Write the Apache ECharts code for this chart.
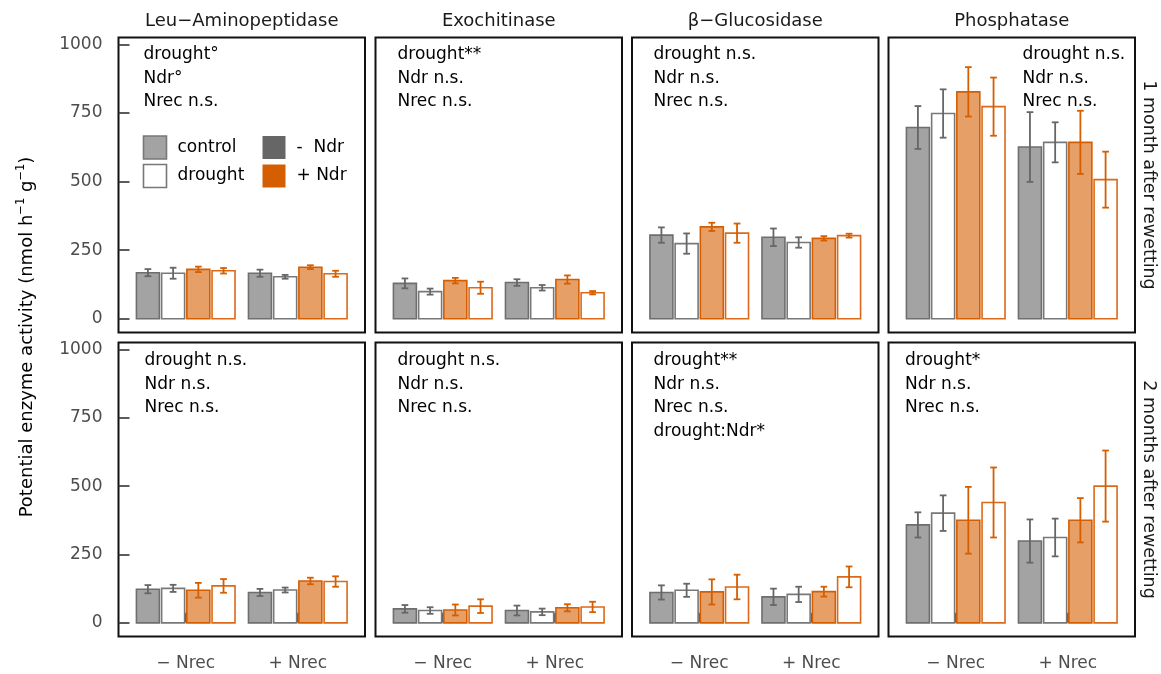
<!DOCTYPE html>
<html>
<head>
<meta charset="utf-8">
<script src="https://cdn.jsdelivr.net/npm/echarts@6/dist/echarts.min.js"></script>
<style>
  html, body { margin: 0; padding: 0; background: #fff; }
  #chart { width: 1161px; height: 674px; }
</style>
</head>
<body>
<div id="chart"></div>
<script>
// Facet labels and x categories
const enzymes = ['Leu\u2212Aminopeptidase', 'Exochitinase', '\u03b2\u2212Glucosidase', 'Phosphatase'];
const timepoints = ['1 month after rewetting', '2 months after rewetting'];
const nrecLevels = ['\u2212 Nrec', '+ Nrec'];
const yTicks = [0, 250, 500, 750, 1000];

// Bar order inside each Nrec group:
// control −Ndr, drought −Ndr, control +Ndr, drought +Ndr  (−Nrec first, then +Nrec)
const leuMean1  = [168, 166, 180, 175, 166, 153, 188, 164];
const leuErr1   = [13, 20, 10, 10, 13, 7, 7, 11];
const chitMean1 = [129, 99, 139, 113, 132, 113, 143, 95];
const chitErr1  = [18, 11, 10, 22, 12, 10, 15, 6];
const glucMean1 = [305, 274, 335, 312, 297, 278, 293, 303];
const glucErr1  = [28, 37, 15, 35, 32, 19, 8, 7];
const phosMean1 = [697, 748, 827, 773, 626, 643, 643, 507];
const phosErr1  = [78, 88, 90, 106, 127, 73, 115, 102];

const leuMean2  = [123, 126, 119, 135, 111, 120, 153, 151];
const leuErr2   = [15, 13, 27, 25, 13, 9, 12, 19];
const chitMean2 = [51, 45, 47, 61, 45, 40, 55, 58];
const chitErr2  = [14, 12, 20, 25, 18, 12, 13, 19];
const glucMean2 = [111, 119, 113, 131, 95, 104, 114, 168];
const glucErr2  = [26, 24, 46, 45, 30, 28, 18, 38];
const phosMean2 = [358, 401, 375, 440, 299, 312, 375, 500];
const phosErr2  = [46, 65, 122, 128, 79, 69, 81, 130];

// ANOVA summaries printed in each panel
const stats1 = [
  ['drought\u00b0', 'Ndr\u00b0', 'Nrec n.s.'],
  ['drought**', 'Ndr n.s.', 'Nrec n.s.'],
  ['drought n.s.', 'Ndr n.s.', 'Nrec n.s.'],
  ['drought n.s.', 'Ndr n.s.', 'Nrec n.s.']
];
const stats2 = [
  ['drought n.s.', 'Ndr n.s.', 'Nrec n.s.'],
  ['drought n.s.', 'Ndr n.s.', 'Nrec n.s.'],
  ['drought**', 'Ndr n.s.', 'Nrec n.s.', 'drought:Ndr*'],
  ['drought*', 'Ndr n.s.', 'Nrec n.s.']
];

const means = [[leuMean1, chitMean1, glucMean1, phosMean1], [leuMean2, chitMean2, glucMean2, phosMean2]];
const errs  = [[leuErr1, chitErr1, glucErr1, phosErr1], [leuErr2, chitErr2, glucErr2, phosErr2]];

// ---- layout & style ----
const FONT = 'DejaVu Sans';
const colLeft = [118.5, 375.5, 632, 888.5];
const colWidth = 246.5;
const rowTop = [37.5, 342.5];
const rowHeight = [295, 294];
const statX = [[143.5, 397.5, 653.5, 1022.5], [144.5, 397.5, 653.5, 905]];
const statY = [55, 361];
const statStep = 23.5;

const dodge = [-0.3375, -0.1125, 0.1125, 0.3375];
const barW = 0.205;
const capHalf = 0.03;
const barStyle = [
  { fill: '#A3A3A3', stroke: '#6E6E6E', err: '#666666' },
  { fill: '#FFFFFF', stroke: '#787878', err: '#666666' },
  { fill: '#E69F66', stroke: '#D55E00', err: '#D55E00' },
  { fill: '#FFFFFF', stroke: '#DA6A1A', err: '#D55E00' }
];

function renderBar(params, api) {
  const grp = api.value(0), slot = api.value(1), mean = api.value(2), se = api.value(3);
  const cx = grp + dodge[slot];
  const a = api.coord([cx - barW / 2, mean]);
  const b = api.coord([cx + barW / 2, 0]);
  const hi = api.coord([cx, mean + se]);
  const lo = api.coord([cx, mean - se]);
  const cl = api.coord([cx - capHalf, mean])[0];
  const cr = api.coord([cx + capHalf, mean])[0];
  const st = barStyle[slot];
  const eStyle = { stroke: st.err, lineWidth: 1.8 };
  return {
    type: 'group',
    children: [
      { type: 'rect', shape: { x: a[0], y: a[1], width: b[0] - a[0], height: b[1] - a[1] },
        style: { fill: st.fill, stroke: st.stroke, lineWidth: 1.6 } },
      { type: 'line', shape: { x1: hi[0], y1: hi[1], x2: lo[0], y2: lo[1] }, style: eStyle },
      { type: 'line', shape: { x1: cl, y1: hi[1], x2: cr, y2: hi[1] }, style: eStyle },
      { type: 'line', shape: { x1: cl, y1: lo[1], x2: cr, y2: lo[1] }, style: eStyle }
    ]
  };
}

const grids = [], xAxes = [], yAxes = [], series = [], graphics = [];

for (let r = 0; r < 2; r++) {
  for (let c = 0; c < 4; c++) {
    const idx = r * 4 + c;
    grids.push({
      left: colLeft[c], top: rowTop[r], width: colWidth, height: rowHeight[r],
      show: true, borderColor: '#111', borderWidth: 2, containLabel: false
    });
    const bottomRow = r === 1;
    xAxes.push({
      type: 'value', gridIndex: idx, min: 0.4, max: 2.6,
      splitLine: { show: false },
      axisLine: { show: false },
      axisTick: { show: bottomRow, inside: true, length: 10, customValues: [1, 2],
                  lineStyle: { color: '#333', width: 1.6 } },
      axisLabel: { show: bottomRow, customValues: [1, 2], margin: 19,
                   formatter: v => nrecLevels[Math.round(v) - 1],
                   fontFamily: FONT, fontSize: 17, color: '#4d4d4d' }
    });
    const leftCol = c === 0;
    yAxes.push({
      type: 'value', gridIndex: idx, min: -50, max: 1025,
      splitLine: { show: false },
      axisLine: { show: false },
      axisTick: { show: leftCol, inside: true, length: 11, customValues: yTicks,
                  lineStyle: { color: '#333', width: 1.6 } },
      axisLabel: { show: leftCol, customValues: yTicks, margin: 16,
                   formatter: v => String(v),
                   fontFamily: FONT, fontSize: 17, color: '#4d4d4d' }
    });
    const data = [];
    for (let i = 0; i < 8; i++) {
      data.push([i < 4 ? 1 : 2, i % 4, means[r][c][i], errs[r][c][i]]);
    }
    series.push({
      type: 'custom', xAxisIndex: idx, yAxisIndex: idx,
      renderItem: renderBar, data: data, silent: true, clip: false
    });
    // statistics text
    const lines = (r === 0 ? stats1 : stats2)[c];
    lines.forEach((t, k) => {
      graphics.push({
        type: 'text', x: statX[r][c], y: statY[r] + k * statStep, silent: true,
        style: { text: t, fontFamily: FONT, fontSize: 17, fill: '#000',
                 align: 'left', verticalAlign: 'middle' }
      });
    });
  }
}

// column strip titles
enzymes.forEach((e, c) => {
  graphics.push({
    type: 'text', x: colLeft[c] + colWidth / 2, y: 21, silent: true,
    style: { text: e, fontFamily: FONT, fontSize: 18, fill: '#1a1a1a', align: 'center', verticalAlign: 'middle' }
  });
});
// row strip titles (read top to bottom)
timepoints.forEach((t, r) => {
  graphics.push({
    type: 'text', x: 1149, y: rowTop[r] + rowHeight[r] / 2, rotation: -Math.PI / 2, silent: true,
    style: { text: t, fontFamily: FONT, fontSize: 17.5, fill: '#1a1a1a', align: 'center', verticalAlign: 'middle' }
  });
});
// y axis title with superscript exponents
graphics.push({
  type: 'text', x: 27, y: 337, rotation: Math.PI / 2, silent: true,
  style: {
    text: 'Potential enzyme activity (nmol h{s|\u22121} g{s|\u22121})',
    fontFamily: FONT, fontSize: 18, lineHeight: 23, fill: '#000', align: 'center', verticalAlign: 'middle',
    rich: { s: { fontFamily: FONT, fontSize: 11.5, lineHeight: 9, verticalAlign: 'top', fill: '#000' } }
  }
});

// legend inside the first panel
const legendItems = [
  { x: 143.5, y: 136, fill: '#A3A3A3', stroke: '#787878', label: 'control' },
  { x: 143.5, y: 164.5, fill: '#FFFFFF', stroke: '#787878', label: 'drought' },
  { x: 262.5, y: 136, fill: '#666666', stroke: null, label: '-  Ndr' },
  { x: 262.5, y: 164.5, fill: '#D55E00', stroke: null, label: '+ Ndr' }
];
legendItems.forEach(it => {
  graphics.push({
    type: 'rect', silent: true,
    shape: { x: it.x, y: it.y, width: 23, height: 23 },
    style: it.stroke ? { fill: it.fill, stroke: it.stroke, lineWidth: 1.6 } : { fill: it.fill }
  });
  graphics.push({
    type: 'text', x: it.x + 34, y: it.y + 11.5, silent: true,
    style: { text: it.label, fontFamily: FONT, fontSize: 17, fill: '#000', align: 'left', verticalAlign: 'middle' }
  });
});

const chart = echarts.init(document.getElementById('chart'), null, { renderer: 'canvas' });
chart.setOption({
  animation: false,
  backgroundColor: '#fff',
  grid: grids,
  xAxis: xAxes,
  yAxis: yAxes,
  series: series,
  graphic: graphics
});
</script>
</body>
</html>
